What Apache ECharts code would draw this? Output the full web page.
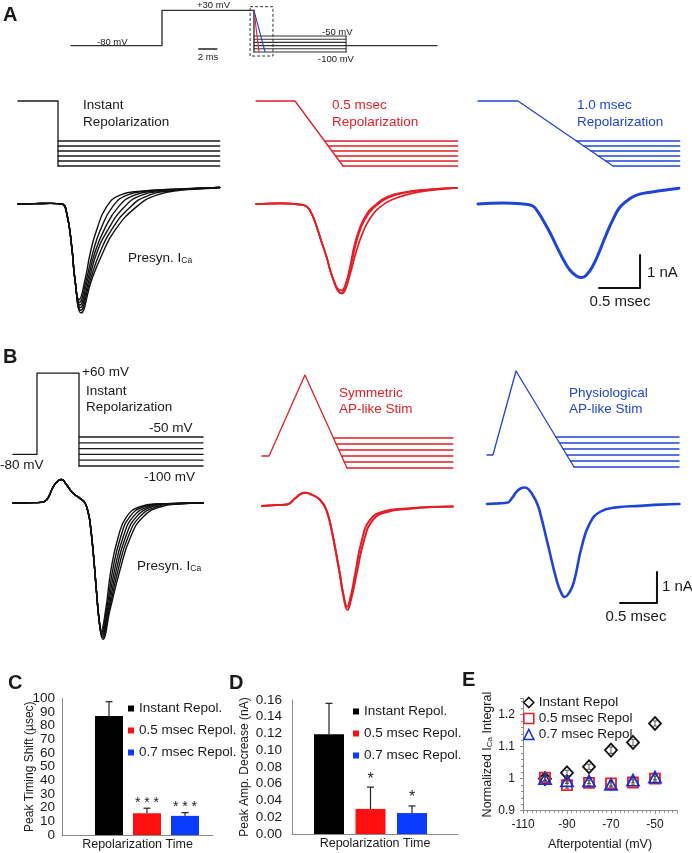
<!DOCTYPE html>
<html><head><meta charset="utf-8">
<script src="https://cdn.jsdelivr.net/npm/echarts/dist/echarts.min.js"></script>
<style>html,body{margin:0;padding:0;background:#fff}#c{width:692px;height:853px}</style>
</head><body><div id="c"></div>
<script>
// ================= DATA =================
const afterLevels = [-50, -60, -70, -80, -90, -100];            // afterpotential levels (mV)

// A overview protocol (ms, mV)
const ovMain = [[0,-80],[10.11,-80],[10.11,30],[20.33,30],[20.33,-100]];
const ovFamilyT = [20.33, 30.56];
const ovRightEdge = [[30.56,-50],[30.56,-100]];
const ovTail = [[30.56,-80],[40.67,-80]];
const ovRedRamp = [[20.33,30],[20.89,-100]];
const ovBlueRamp = [[20.33,30],[21.56,-100]];
const ovZoomBox = [[19.9,41.6],[22.44,-112.5]];
const ovScaleMs = 2;

// A stimulus waveforms (ms, mV)
const aBlackStim = [[0,30],[0.488,30],[0.488,-100]];
const aBlackCross = [0.488,0.488,0.488,0.488,0.488,0.488];
const aRedStim = [[0,30],[0.476,30],[1.061,-100]];
const aRedCross = [0.836,0.881,0.926,0.971,1.016,1.061];
const aBlueStim = [[0,30],[0.488,30],[1.646,-100]];
const aBlueCross = [1.201,1.290,1.379,1.468,1.557,1.646];
const aEnd = 2.46;

// A currents (ms, nA)
const aBlackFall = [[0,0],[0.2,0.01],[0.4,0.02],[0.535,0],[0.594,-0.28],[0.655,-1.29],[0.695,-2.3]];
const aBlackRise = [
 [[0.745,-2.9],[0.817,-2.3],[0.88,-1.5],[0.959,-0.79],[1.081,-0.08],[1.244,0.27],[1.5,0.39],[1.9,0.45],[2.46,0.5]],
 [[0.75,-2.98],[0.833,-2.3],[0.91,-1.5],[1.004,-0.79],[1.154,-0.08],[1.33,0.27],[1.6,0.4],[1.95,0.45],[2.46,0.5]],
 [[0.755,-3.06],[0.849,-2.3],[0.934,-1.5],[1.049,-0.79],[1.227,-0.08],[1.42,0.27],[1.7,0.4],[2.0,0.45],[2.46,0.5]],
 [[0.76,-3.14],[0.866,-2.3],[0.958,-1.5],[1.094,-0.79],[1.3,-0.08],[1.51,0.27],[1.78,0.39],[2.05,0.45],[2.46,0.5]],
 [[0.765,-3.22],[0.882,-2.3],[0.994,-1.5],[1.138,-0.79],[1.374,-0.08],[1.6,0.27],[1.85,0.4],[2.1,0.45],[2.46,0.5]],
 [[0.77,-3.3],[0.898,-2.3],[1.03,-1.5],[1.183,-0.79],[1.447,-0.08],[1.691,0.27],[2.0,0.42],[2.25,0.46],[2.46,0.5]]
];
const aRedTraces = [
 [[0,0],[0.3,0.02],[0.55,-0.02],[0.62,-0.08],[0.68,-0.3],[0.74,-0.69],[0.8,-1.15],[0.86,-1.6],[0.91,-2.05],[0.96,-2.4],[1.0,-2.62],[1.037,-2.7],[1.08,-2.55],[1.146,-1.91],[1.2,-1.25],[1.27,-0.69],[1.35,-0.3],[1.43,-0.08],[1.6,0.22],[1.84,0.37],[2.1,0.44],[2.45,0.49]],
 [[0,0],[0.3,0.02],[0.55,-0.02],[0.62,-0.08],[0.68,-0.3],[0.74,-0.69],[0.8,-1.15],[0.86,-1.6],[0.91,-2.05],[0.96,-2.38],[1.0,-2.58],[1.04,-2.62],[1.09,-2.45],[1.16,-1.85],[1.22,-1.2],[1.29,-0.66],[1.37,-0.3],[1.46,-0.06],[1.62,0.2],[1.86,0.36],[2.1,0.44],[2.45,0.49]],
 [[0,0],[0.3,0.02],[0.55,-0.02],[0.62,-0.08],[0.68,-0.3],[0.74,-0.69],[0.8,-1.15],[0.86,-1.6],[0.91,-2.05],[0.96,-2.42],[1.0,-2.64],[1.045,-2.72],[1.09,-2.6],[1.16,-2.02],[1.23,-1.38],[1.31,-0.82],[1.4,-0.4],[1.5,-0.12],[1.65,0.12],[1.9,0.32],[2.15,0.42],[2.45,0.49]]
];
const aBlueTrace = [[0,0],[0.3,0.03],[0.55,0.0],[0.66,-0.05],[0.72,-0.2],[0.79,-0.48],[0.88,-0.88],[0.96,-1.29],[1.04,-1.68],[1.12,-2.0],[1.2,-2.18],[1.265,-2.23],[1.33,-2.13],[1.406,-1.85],[1.49,-1.38],[1.57,-0.89],[1.65,-0.45],[1.73,-0.1],[1.83,0.12],[1.935,0.27],[2.08,0.35],[2.22,0.4],[2.45,0.48]];

// B stimulus waveforms (ms, mV)
const bBlackStim = [[0,-80],[0.324,-80],[0.324,60],[0.892,60],[0.892,-100]];
const bBlackCross = [0.892,0.892,0.892,0.892,0.892,0.892];
const bBlackEnd = 2.568;
const bRedStim = [[0,-80],[0.095,-80],[0.58,55],[1.149,-100]];
const bRedCross = [0.966,1.002,1.039,1.076,1.112,1.149];
const bRedEnd = 2.58;
const bBlueStim = [[0,-80],[0.08,-80],[0.392,60],[1.176,-100]];
const bBlueCross = [0.931,0.980,1.029,1.078,1.127,1.176];
const bBlueEnd = 2.595;

// B currents (ms, nA)
const bBlackFall = [[0,0],[0.2,0.01],[0.38,0.02],[0.455,0.1],[0.545,0.53],[0.61,0.72],[0.658,0.76],[0.725,0.58],[0.815,0.31],[0.905,0.15],[0.973,0.0],[1.018,-0.33],[1.04,-0.6],[1.085,-1.62],[1.13,-2.91],[1.165,-3.8]];
const bBlackRise = [
 [[1.19,-4.1],[1.252,-3.45],[1.324,-2.16],[1.423,-1.09],[1.536,-0.44],[1.716,-0.12],[1.95,-0.03],[2.568,0]],
 [[1.195,-4.16],[1.264,-3.45],[1.348,-2.16],[1.456,-1.09],[1.58,-0.44],[1.77,-0.12],[2.0,-0.03],[2.568,0]],
 [[1.2,-4.22],[1.276,-3.45],[1.372,-2.16],[1.49,-1.09],[1.625,-0.44],[1.83,-0.12],[2.05,-0.03],[2.568,0]],
 [[1.205,-4.28],[1.288,-3.45],[1.396,-2.16],[1.523,-1.09],[1.67,-0.44],[1.885,-0.12],[2.1,-0.03],[2.568,0]],
 [[1.21,-4.34],[1.3,-3.45],[1.42,-2.16],[1.556,-1.09],[1.715,-0.44],[1.94,-0.12],[2.17,-0.03],[2.568,0]],
 [[1.215,-4.4],[1.311,-3.45],[1.446,-2.16],[1.59,-1.09],[1.761,-0.44],[2.0,-0.12],[2.25,-0.03],[2.568,0]]
];
const bRedTraces = [
 [[0,0],[0.2,0.03],[0.34,0.05],[0.45,0.25],[0.52,0.38],[0.58,0.43],[0.66,0.38],[0.76,0.25],[0.81,0.12],[0.85,-0.02],[0.9,-0.35],[0.96,-1.0],[1.05,-2.17],[1.1,-2.85],[1.15,-3.25],[1.2,-2.9],[1.26,-2.17],[1.35,-1.1],[1.46,-0.45],[1.64,-0.18],[1.96,-0.08],[2.3,-0.03],[2.58,-0.02]],
 [[0,0],[0.2,0.03],[0.34,0.05],[0.45,0.25],[0.52,0.38],[0.58,0.43],[0.66,0.38],[0.76,0.25],[0.81,0.12],[0.85,-0.02],[0.9,-0.35],[0.96,-1.0],[1.05,-2.17],[1.1,-2.9],[1.155,-3.35],[1.21,-2.95],[1.28,-2.17],[1.38,-1.1],[1.5,-0.45],[1.68,-0.2],[2.0,-0.09],[2.3,-0.03],[2.58,-0.02]]
];
const bBlueTrace = [[0,0],[0.15,0.02],[0.27,0.04],[0.34,0.2],[0.4,0.4],[0.46,0.51],[0.51,0.53],[0.57,0.45],[0.63,0.24],[0.68,0.0],[0.72,-0.3],[0.83,-1.38],[0.94,-2.45],[1.0,-2.85],[1.05,-3.0],[1.1,-2.9],[1.17,-2.55],[1.28,-1.38],[1.39,-0.62],[1.53,-0.25],[1.75,-0.11],[2.07,-0.06],[2.35,-0.02],[2.6,0]];
const scaleMs = 0.5, scaleNa = 1;

// C
const barNames = ['Instant Repol.', '0.5 msec Repol.', '0.7 msec Repol.'];
const cMeans = [87.0, 15.9, 14.0];
const cErrors = [10.5, 3.7, 2.4];
const cStars = ['', '* * *', '* * *'];
const cTicks = {min: 0, max: 100, interval: 10};
// D
const dMeans = [0.119, 0.030, 0.025];
const dErrors = [0.037, 0.026, 0.0085];
const dStars = ['', '*', '*'];
const dTicks = {min: 0, max: 0.16, interval: 0.02};
// E
const eNames = ['Instant Repol', '0.5 msec Repol', '0.7 msec Repol'];
const eAfter = [-100, -90, -80, -70, -60, -50];
const eInstant = [1.0, 1.018, 1.037, 1.089, 1.113, 1.172];
const eHalf = [1.003, 0.98, 0.987, 0.985, 0.988, 1.0];
const eSeven = [1.0, 0.993, 0.993, 0.982, 0.995, 1.005];
const eInstantErr = [0.006, 0.008, 0.008, 0.01, 0.01, 0.008];
const eHalfErr = [0.008, 0.01, 0.008, 0.008, 0.008, 0.008];
const eSevenErr = [0.008, 0.008, 0.008, 0.008, 0.008, 0.008];

// ================= STYLE / BUILD =================
const FONT = "'Liberation Sans', Arial, sans-serif";
const INK = '#1a1a1a', RED = '#e41e26', BLUE = '#1f45d6', AX = '#8a8a8a';
const BAR_COLORS = ['#000000', '#ff1010', '#0b3bff'];

const grids = [], xAxes = [], yAxes = [], series = [];

function addTraceGrid(c) {
  const gi = grids.length;
  grids.push({left: c.left, top: c.top, width: c.width, height: c.height});
  const xi = xAxes.length;
  xAxes.push({type: 'value', gridIndex: gi, min: 0, max: c.width / c.pxMs, show: false});
  const vi = yAxes.length;
  yAxes.push({type: 'value', gridIndex: gi, show: false,
    max: c.vRef + (c.vRefY - c.top) / c.pxMv,
    min: c.vRef - (c.top + c.height - c.vRefY) / c.pxMv});
  let ii = -1;
  if (c.pxNa) {
    ii = yAxes.length;
    yAxes.push({type: 'value', gridIndex: gi, show: false,
      max: (c.iZeroY - c.top) / c.pxNa,
      min: -(c.top + c.height - c.iZeroY) / c.pxNa});
  }
  return {xi, vi, ii};
}
function addLine(ax, yi, data, color, width, smooth, extra) {
  series.push(Object.assign({type: 'line', xAxisIndex: ax.xi, yAxisIndex: yi, data: data,
    symbol: 'none', silent: true, clip: false, smooth: smooth || false,
    lineStyle: {color: color, width: width, join: 'round', cap: 'round'}, z: 3}, extra || {}));
}
function addStim(ax, stim, cross, end, color, width) {
  addLine(ax, ax.vi, stim, color, width);
  afterLevels.forEach((L, k) => addLine(ax, ax.vi, [[cross[k], L], [end, L]], color, width));
}

// ---- A overview
const ov = addTraceGrid({left: 71, top: 0, width: 366, height: 65, pxMs: 9, vRef: -50, vRefY: 36, pxMv: 0.32});
addLine(ov, ov.vi, ovMain, '#333', 1.4, false, {markArea: {silent: true,
  itemStyle: {color: 'rgba(0,0,0,0)', borderColor: '#333', borderWidth: 1, borderType: [3, 2]},
  data: [[{coord: ovZoomBox[0]}, {coord: ovZoomBox[1]}]]}});
afterLevels.forEach(L => addLine(ov, ov.vi, [[ovFamilyT[0], L], [ovFamilyT[1], L]], '#333', 1.1));
addLine(ov, ov.vi, ovRightEdge, '#333', 1.1);
addLine(ov, ov.vi, ovTail, '#333', 1.4);
addLine(ov, ov.vi, ovRedRamp, RED, 1.1);
addLine(ov, ov.vi, ovBlueRamp, BLUE, 1.1);
addLine(ov, ov.vi, [[14.2, -90.6], [14.2 + ovScaleMs, -90.6]], '#222', 1.5);

// ---- A traces
const aCfg = {top: 95, height: 225, pxMs: 82, vRef: -50, vRefY: 141, pxMv: 0.5, iZeroY: 204, pxNa: 33};
const aK = addTraceGrid(Object.assign({left: 18, width: 202}, aCfg));
const aR = addTraceGrid(Object.assign({left: 256, width: 201}, aCfg));
const aB = addTraceGrid(Object.assign({left: 478, width: 201}, aCfg));
addStim(aK, aBlackStim, aBlackCross, aEnd, INK, 1.3);
addStim(aR, aRedStim, aRedCross, aEnd, RED, 1.3);
addStim(aB, aBlueStim, aBlueCross, aEnd, BLUE, 1.3);
aBlackRise.forEach(r => addLine(aK, aK.ii, aBlackFall.concat(r), '#111', 1.4, 0.5));
aRedTraces.forEach(r => addLine(aR, aR.ii, r, RED, 1.7, 0.5));
addLine(aB, aB.ii, aBlueTrace, BLUE, 3, 0.5);
{ const c = [1.976, -2.545];
  addLine(aB, aB.ii, [[c[0] - scaleMs, c[1]], c, [c[0], c[1] + scaleNa]], '#111', 2); }

// ---- B traces
const bK = addTraceGrid({left: 13, width: 190, top: 365, height: 280, pxMs: 74, vRef: -50, vRefY: 437, pxMv: 0.58, iZeroY: 503, pxNa: 31});
const bR = addTraceGrid({left: 262, width: 191, top: 365, height: 280, pxMs: 74, vRef: -50, vRefY: 438, pxMv: 0.6, iZeroY: 506, pxNa: 31});
const bB = addTraceGrid({left: 487, width: 192, top: 365, height: 280, pxMs: 74, vRef: -50, vRefY: 437, pxMv: 0.6, iZeroY: 504, pxNa: 31});
addStim(bK, bBlackStim, bBlackCross, bBlackEnd, INK, 1.3);
addStim(bR, bRedStim, bRedCross, bRedEnd, RED, 1.3);
addStim(bB, bBlueStim, bBlueCross, bBlueEnd, BLUE, 1.3);
bBlackRise.forEach(r => addLine(bK, bK.ii, bBlackFall.concat(r), '#111', 1.4, 0.5));
bRedTraces.forEach(r => addLine(bR, bR.ii, r, RED, 2, 0.5));
addLine(bB, bB.ii, bBlueTrace, BLUE, 2.6, 0.5);
{ const c = [2.297, -3.19];
  addLine(bB, bB.ii, [[c[0] - scaleMs, c[1]], c, [c[0], c[1] + scaleNa]], '#111', 2); }

// ---- C & D bar panels
function addBarPanel(p) {
  const gA = grids.length;
  grids.push({left: p.axLeft, top: p.top, width: p.axWidth, height: p.height});
  xAxes.push({type: 'category', gridIndex: gA, data: [''], axisLine: {lineStyle: {color: AX}},
    axisTick: {show: false}, axisLabel: {show: false},
    name: 'Repolarization Time', nameLocation: 'middle', nameGap: 3,
    nameTextStyle: {fontFamily: FONT, fontSize: 12.5, color: INK}});
  const lab = {fontFamily: FONT, fontSize: 13.5, lineHeight: 11, color: INK, margin: p.labelMargin, formatter: p.fmt, hideOverlap: false};
  yAxes.push({type: 'value', gridIndex: gA, position: 'left', min: p.ticks.min, max: p.ticks.max, interval: p.ticks.interval,
    axisLine: {show: true, lineStyle: {color: AX}}, axisTick: {show: false}, splitLine: {show: false},
    axisLabel: Object.assign({}, lab, p.splitEnds ? {showMinLabel: false, showMaxLabel: false} : {showMinLabel: true, showMaxLabel: true}),
    name: p.yName, nameLocation: 'middle', nameGap: p.yNameGap,
    nameTextStyle: {fontFamily: FONT, fontSize: 12, color: INK}});
  if (p.splitEnds) {
    // extra label-only axis for the two end ticks (avoids automatic overlap hiding)
    yAxes.push({type: 'value', gridIndex: gA, position: 'left', min: p.ticks.min, max: p.ticks.max,
      interval: p.ticks.max - p.ticks.min, axisLine: {show: false}, axisTick: {show: false}, splitLine: {show: false},
      axisLabel: Object.assign({}, lab, {showMinLabel: true, showMaxLabel: true})});
  }
  const gB = grids.length;
  grids.push({left: p.barLeft, top: p.top, width: p.barSpan, height: p.height});
  const xb = xAxes.length;
  xAxes.push({type: 'category', gridIndex: gB, data: barNames, show: false});
  const yb = yAxes.length;
  yAxes.push({type: 'value', gridIndex: gB, min: p.ticks.min, max: p.ticks.max, show: false});
  barNames.forEach((n, k) => series.push({type: 'bar', name: n, xAxisIndex: xb, yAxisIndex: yb, silent: true,
    data: p.means.map((m, j) => j === k ? m : '-'), barWidth: p.bw, barGap: '-100%',
    itemStyle: {color: BAR_COLORS[k]}}));
  series.push({type: 'custom', xAxisIndex: xb, yAxisIndex: yb, silent: true, z: 5,
    data: p.means.map((m, k) => [k, m, m + p.errors[k]]),
    renderItem: (params, api) => {
      const k = api.value(0);
      const pb = api.coord([k, api.value(1)]), pt = api.coord([k, api.value(2)]);
      const ch = [
        {type: 'line', shape: {x1: pb[0], y1: pb[1], x2: pt[0], y2: pt[1]}, style: {stroke: '#222', lineWidth: 1.2}},
        {type: 'line', shape: {x1: pt[0] - 3.5, y1: pt[1], x2: pt[0] + 3.5, y2: pt[1]}, style: {stroke: '#222', lineWidth: 1.2}}
      ];
      const s = p.stars[params.dataIndex];
      if (s) ch.push({type: 'text', x: pt[0], y: pt[1] - p.starOff,
        style: {text: s, fill: '#222', font: p.starFont + ' ' + FONT, align: 'center', verticalAlign: 'middle'}});
      return {type: 'group', children: ch};
    }});
}
addBarPanel({axLeft: 62, axWidth: 151, top: 698.3, height: 136.7, barLeft: 90, barSpan: 114, bw: 28,
  ticks: cTicks, means: cMeans, errors: cErrors, stars: cStars, labelMargin: 7, fmt: null, splitEnds: true,
  yName: 'Peak Timing Shift (\u00b5sec)', yNameGap: 23, starOff: 5, starFont: '14px'});
addBarPanel({axLeft: 292, axWidth: 166, top: 700, height: 134, barLeft: 308.25, barSpan: 124.5, bw: 30,
  ticks: dTicks, means: dMeans, errors: dErrors, stars: dStars, labelMargin: 10, fmt: v => v.toFixed(2),
  yName: 'Peak Amp. Decrease (nA)', yNameGap: 41, starOff: 8, starFont: '16px'});

// ---- E scatter
const gE = grids.length;
grids.push({left: 523, top: 698.5, width: 154, height: 112.2});
const xE = xAxes.length;
xAxes.push({type: 'value', gridIndex: gE, min: -110, max: -40, interval: 20,
  axisLine: {lineStyle: {color: AX}}, axisTick: {show: true, length: 3, lineStyle: {color: AX}},
  minorTick: {show: true, splitNumber: 10, length: 2, lineStyle: {color: AX}},
  splitLine: {show: false}, axisLabel: {fontFamily: FONT, fontSize: 12, color: INK, margin: 8, showMaxLabel: false},
  name: 'Afterpotential (mV)', nameLocation: 'middle', nameGap: 27,
  nameTextStyle: {fontFamily: FONT, fontSize: 12.5, color: INK}});
const yE = yAxes.length;
yAxes.push({type: 'value', gridIndex: gE, min: 0.9, max: 1.25, interval: 0.1,
  axisLine: {show: true, lineStyle: {color: AX}}, axisTick: {show: true, length: 3, lineStyle: {color: AX}},
  minorTick: {show: true, splitNumber: 5, length: 2, lineStyle: {color: AX}},
  splitLine: {show: false}, axisLabel: {fontFamily: FONT, fontSize: 12, color: INK, margin: 8, showMaxLabel: false},
  name: 'Normalized I{s|Ca} Integral', nameLocation: 'middle', nameGap: 29,
  nameTextStyle: {fontFamily: FONT, fontSize: 12.5, color: INK, rich: {s: {fontSize: 8, fontFamily: FONT, color: INK, verticalAlign: 'bottom', padding: [4, 0, 0, 0]}}}});
const eSets = [
  {name: eNames[0], vals: eInstant, err: eInstantErr, symbol: 'diamond', size: [12, 13], color: '#111'},
  {name: eNames[1], vals: eHalf, err: eHalfErr, symbol: 'rect', size: 10, color: '#e8202a'},
  {name: eNames[2], vals: eSeven, err: eSevenErr, symbol: 'triangle', size: [12, 11], color: '#1530e0'}
];
eSets.forEach(s => {
  series.push({type: 'scatter', name: s.name, xAxisIndex: xE, yAxisIndex: yE, silent: true,
    data: eAfter.map((x, i) => [x, s.vals[i]]), symbol: s.symbol, symbolSize: s.size,
    itemStyle: {color: 'rgba(0,0,0,0)', borderColor: s.color, borderWidth: 1.8, opacity: 1}, z: 4});
  series.push({type: 'custom', xAxisIndex: xE, yAxisIndex: yE, silent: true, z: 5,
    data: eAfter.map((x, i) => [x, s.vals[i] - s.err[i], s.vals[i] + s.err[i]]),
    renderItem: (params, api) => {
      const a = api.coord([api.value(0), api.value(1)]), b = api.coord([api.value(0), api.value(2)]);
      return {type: 'group', children: [
        {type: 'line', shape: {x1: a[0], y1: a[1], x2: b[0], y2: b[1]}, style: {stroke: '#333', lineWidth: 0.8}},
        {type: 'line', shape: {x1: a[0] - 2, y1: a[1], x2: a[0] + 2, y2: a[1]}, style: {stroke: '#333', lineWidth: 0.8}},
        {type: 'line', shape: {x1: b[0] - 2, y1: b[1], x2: b[0] + 2, y2: b[1]}, style: {stroke: '#333', lineWidth: 0.8}}
      ]};
    }});
});

// ---- legends
const legendText = {fontFamily: FONT, fontSize: 13.5, color: INK, lineHeight: 15};
const legends = [
  {left: 128, top: 701, orient: 'vertical', itemWidth: 6, itemHeight: 6, itemGap: 7, padding: 0,
   selectedMode: false, textStyle: legendText, data: barNames.map(n => ({name: n, icon: 'rect'}))},
  {left: 353, top: 704, orient: 'vertical', itemWidth: 6, itemHeight: 6, itemGap: 7, padding: 0,
   selectedMode: false, textStyle: legendText, data: barNames.map(n => ({name: n, icon: 'rect'}))},
  {left: 523, top: 695, orient: 'vertical', itemWidth: 10, itemHeight: 10, itemGap: 1, padding: 0,
   selectedMode: false, textStyle: legendText,
   data: eSets.map(s => ({name: s.name, icon: s.symbol,
     itemStyle: {color: 'rgba(0,0,0,0)', borderColor: s.color, borderWidth: 1.6}}))}
];

// ---- text annotations
function T(x, y, text, o) {
  o = o || {};
  return {type: 'text', x: x, y: y, silent: true, z: 10,
    style: {text: text, fill: o.fill || INK, align: o.align || 'left', verticalAlign: 'middle',
      font: (o.weight || 'normal') + ' ' + (o.size || 13.5) + 'px ' + FONT, rich: o.rich}};
}
const presynRich = {s: {fontSize: 8.5, fontFamily: FONT, fill: INK, verticalAlign: 'bottom', padding: [5, 0, 0, 0]}};
const graphics = [
  T(3, 15, 'A', {weight: 'bold', size: 20}),
  T(197, 5, '+30 mV', {size: 9.5}), T(97, 42, '-80 mV', {size: 9.5}),
  T(322, 32, '-50 mV', {size: 9.5}), T(318, 59, '-100 mV', {size: 9.5}),
  T(208, 57, '2 ms', {size: 9.5, align: 'center'}),
  T(83, 105, 'Instant'), T(83, 122, 'Repolarization'),
  T(332, 105, '0.5 msec', {fill: RED}), T(332, 122, 'Repolarization', {fill: RED}),
  T(577, 105, '1.0 msec', {fill: BLUE}), T(577, 122, 'Repolarization', {fill: BLUE}),
  T(128, 258, 'Presyn. I{s|Ca}', {rich: presynRich}),
  T(647, 273, '1 nA', {size: 15}), T(620, 302, '0.5 msec', {size: 15, align: 'center'}),
  T(3, 357, 'B', {weight: 'bold', size: 20}),
  T(82, 372, '+60 mV'), T(86, 391, 'Instant'), T(86, 407, 'Repolarization'),
  T(149, 428, '-50 mV'), T(0, 465, '-80 mV'), T(144, 477, '-100 mV'),
  T(137, 566, 'Presyn. I{s|Ca}', {rich: presynRich}),
  T(339, 393, 'Symmetric', {fill: RED}), T(339, 409, 'AP-like Stim', {fill: RED}),
  T(569, 393, 'Physiological', {fill: BLUE}), T(569, 409, 'AP-like Stim', {fill: BLUE}),
  T(662, 587, '1 nA', {size: 15}), T(636, 617, '0.5 msec', {size: 15, align: 'center'}),
  T(8, 683, 'C', {weight: 'bold', size: 20}),
  T(229, 683, 'D', {weight: 'bold', size: 20}),
  T(462, 680, 'E', {weight: 'bold', size: 20})
];

const chart = echarts.init(document.getElementById('c'), null, {renderer: 'canvas'});
chart.setOption({
  animation: false,
  backgroundColor: '#fff',
  textStyle: {fontFamily: FONT},
  grid: grids, xAxis: xAxes, yAxis: yAxes, series: series,
  legend: legends, graphic: graphics
});
</script></body></html>
